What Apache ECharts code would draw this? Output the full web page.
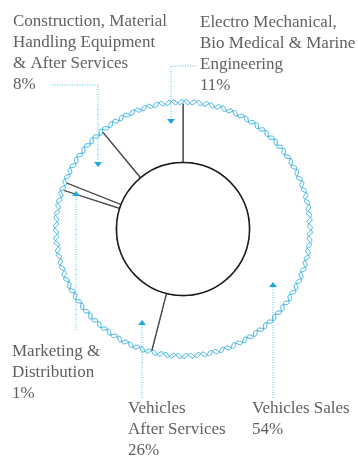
<!DOCTYPE html>
<html><head><meta charset="utf-8">
<script src="https://cdn.jsdelivr.net/npm/echarts@6/dist/echarts.min.js"></script>
<style>html,body{margin:0;padding:0;background:#fff}#c{width:358px;height:456px}</style>
</head><body><div id="c"></div>
<script>
// ---- data ----
const categories = [
  'Vehicles Sales',
  'Vehicles\nAfter Services',
  'Marketing &\nDistribution',
  'Construction, Material\nHandling Equipment\n& After Services',
  'Electro Mechanical,\nBio Medical & Marine\nEngineering'
];
const shares = [54, 26, 1, 8, 11];

// ---- layout (label text top-left, leader paths, arrow direction) ----
const labelBoxes = [[252, 398], [128, 398], [12, 341], [13, 11], [200, 12]];
const leaderPaths = [
  [[273, 398], [273, 287]],
  [[142, 398], [142, 325]],
  [[76, 330], [76, 196]],
  [[52, 85], [98, 85], [98, 162]],
  [[196, 66], [171, 66], [171, 119]]
];
const arrowDirs = ['up', 'up', 'up', 'down', 'down'];

const cx = 183, cy = 229, R0 = 66.5, R1 = 127;
const ringColor = '#27aae1';

function wave(phase) {
  const pts = [];
  const n = 64, N = 1600;
  for (let i = 0; i <= N; i++) {
    const t = i / N * 2 * Math.PI;
    const r = R1 + 2.4 * Math.sin(n * t + phase);
    pts.push([cx + r * Math.sin(t), cy - r * Math.cos(t)]);
  }
  return pts;
}

const graphics = [
  { type: 'circle', shape: { cx: cx, cy: cy, r: R1 }, style: { fill: 'none', stroke: '#fff', lineWidth: 3 }, z: 10, silent: true },
  { type: 'polyline', shape: { points: wave(0) }, style: { fill: 'none', stroke: ringColor, lineWidth: 1 }, z: 11, silent: true },
  { type: 'polyline', shape: { points: wave(Math.PI * 0.7) }, style: { fill: 'none', stroke: ringColor, lineWidth: 0.9 }, z: 11, silent: true }
];
leaderPaths.forEach((p, i) => {
  graphics.push({ type: 'polyline', shape: { points: p }, style: { fill: 'none', stroke: '#4cc3ea', lineWidth: 1, lineDash: [1, 1.5] }, z: 12, silent: true });
  const e = p[p.length - 1];
  const d = arrowDirs[i] === 'up' ? -5 : 5;
  graphics.push({ type: 'polygon', shape: { points: [[e[0] - 4, e[1]], [e[0] + 4, e[1]], [e[0], e[1] + d]] }, style: { fill: '#1fa8d8' }, z: 12, silent: true });
});

const chart = echarts.init(document.getElementById('c'), null, { renderer: 'canvas' });
chart.setOption({
  animation: false,
  graphic: graphics,
  series: [
    {
      type: 'pie', center: [cx, cy], radius: [R0, R1], startAngle: 90, clockwise: true,
      avoidLabelOverlap: false, silent: true,
      data: categories.map((n, i) => ({ name: n, value: shares[i] })),
      itemStyle: { color: '#fff', borderColor: '#4a4a4a', borderWidth: 1.3 },
      label: {
        show: true, formatter: p => p.name + '\n' + p.value + '%',
        color: '#606060', fontFamily: 'Liberation Serif', fontSize: 17, lineHeight: 21, align: 'left'
      },
      labelLine: { show: false },
      labelLayout: p => ({ x: labelBoxes[p.dataIndex][0], y: labelBoxes[p.dataIndex][1], align: 'left', verticalAlign: 'top' }),
      emphasis: { disabled: true }
    },
    {
      type: 'pie', center: [cx, cy], radius: [0, R0], silent: true, z: 3,
      label: { show: false }, labelLine: { show: false },
      data: [{ value: 1, name: 'core' }],
      itemStyle: { color: '#fff', borderColor: '#1a1a1a', borderWidth: 1.5 },
      emphasis: { disabled: true }
    }
  ]
});
</script>
</body></html>
